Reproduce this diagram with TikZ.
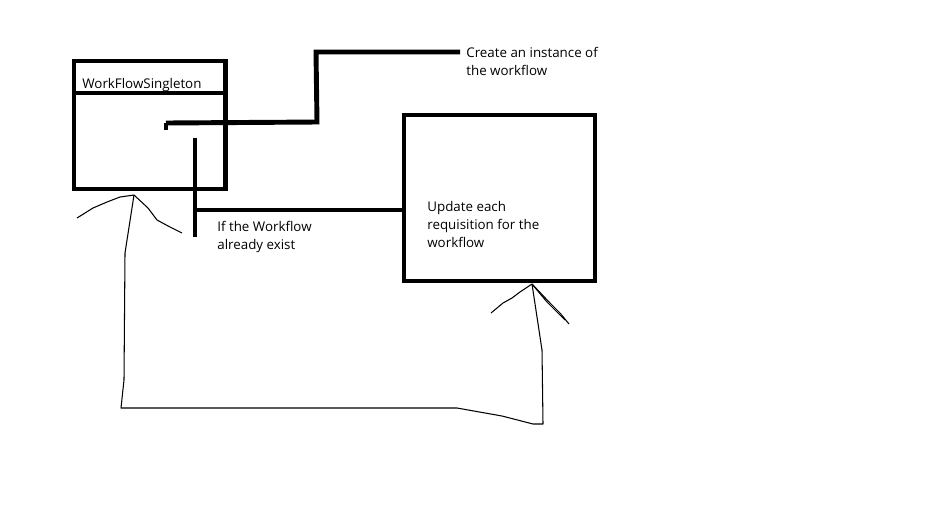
\documentclass[tikz,border=0pt]{standalone}
\usepackage{fontspec}
\setmainfont{Open Sans}
\usepackage{tikz}
\usetikzlibrary{positioning}

\begin{document}
\begin{tikzpicture}[x=0.02cm,y=-0.02cm,
        box/.style={draw=black,line width=2.8pt,inner sep=0pt},
        label/.style={anchor=north west,align=left,inner sep=0pt,text=black,font=\fontsize{7.6}{10.2}\selectfont},
        wire/.style={draw=black,line width=2.8pt},
        pen/.style={draw=black,line width=0.6pt,line join=round}]
        \useasboundingbox (0,0) rectangle (928,508);

        \node[box,minimum width=3.03cm,minimum height=2.56cm] (single) at (149.75,125) {};
        \node[box,minimum width=3.82cm,minimum height=3.32cm] (update) at (499.5,198) {};

        \node[label,anchor=base west] (title)  at (82,88) {WorkFlowSingleton};
        \node[label] (create) at (466,47) {Create an instance of\\the workflow};
        \node[label] (exist)  at (217,221) {If the Workflow\\already exist};
        \node[label] (each)   at (427,201) {Update each\\requisition for the\\workflow};

        \coordinate (start)  at (166,123);
        \coordinate (top)    at (195,138);
        \coordinate (branch) at (195,210);
        \coordinate (foot)   at (195,237);
        \coordinate (tipL)   at (134,195);
        \coordinate (tipR)   at (532,284);

        % divider of the singleton box
        \draw[wire] (74,93) -- (228,93);

        % thick connectors
        \draw[wire] (start) -- (start |- 0,130);
        \draw[wire] (start) -- (317,122) -- (316,52) -- (460,52);
        \draw[wire] (top) -- (foot);
        \draw[wire] (branch) -- (branch -| update.west);

        % hand drawn loop back
        \draw[pen] (tipR) -- (542,350) -- (543,424) -- (533,424) -- (502,416)
                   -- (457,408) -- (121,408) -- (124,380) -- (125,253) -- (tipL);
        \draw[pen] (tipL) -- (120,197) -- (107,202) -- (93,208) -- (77,218);
        \draw[pen] (tipL) -- (148,208) -- (157,220) -- (170,227) -- (182,233);
        \draw[pen] (tipR) -- (520,292) -- (512,298) -- (503,303) -- (491,313);
        \draw[pen] (tipR) -- (550,303) -- (560,313) -- (569,324);
        \draw[pen] (tipR) -- (547,302) -- (565,320);
    \end{tikzpicture}
\end{document}
